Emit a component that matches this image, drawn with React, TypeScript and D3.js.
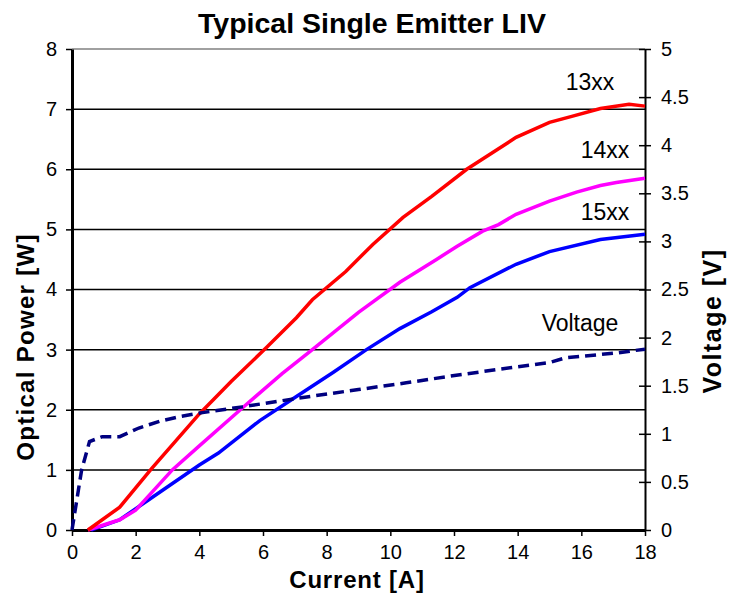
import { useEffect, useRef } from 'react';
import * as d3 from 'd3';

// current [A] / optical power [W]
const curr13 = [0.5, 1.5, 2.5, 4.0, 5.0, 6.1, 7.05, 7.55, 8.6, 9.45, 10.4, 11.3, 12.4, 13.95, 15.0, 15.7, 16.6, 17.5, 18.0];
const power13 = [0, 0.38, 1.02, 1.93, 2.47, 3.03, 3.53, 3.83, 4.3, 4.75, 5.2, 5.55, 6.0, 6.53, 6.78, 6.88, 7.01, 7.08, 7.05];

const curr14 = [0.5, 1.5, 2.0, 3.15, 4.0, 5.35, 6.6, 7.55, 9.0, 10.3, 11.45, 12.1, 12.9, 13.4, 13.95, 15.0, 15.85, 16.6, 17.1, 18.0];
const power14 = [0, 0.17, 0.33, 1.0, 1.4, 2.03, 2.6, 3.0, 3.62, 4.12, 4.5, 4.72, 4.97, 5.08, 5.25, 5.47, 5.62, 5.73, 5.78, 5.85];

const curr15 = [0.6, 1.5, 2.4, 4.0, 4.6, 5.9, 7.05, 8.2, 9.25, 10.3, 11.3, 12.1, 12.5, 13.95, 15.0, 16.6, 18.0];
const power15 = [0, 0.17, 0.5, 1.08, 1.28, 1.82, 2.22, 2.62, 3.0, 3.35, 3.63, 3.87, 4.03, 4.42, 4.63, 4.83, 4.92];

// current [A] / voltage [V]
const currV = [0, 0.3, 0.55, 0.95, 1.5, 2.1, 2.75, 3.4, 4.1, 5.35, 7.1, 9.0, 10.5, 11.9, 13.4, 15.0, 15.5, 17.1, 18.0];
const voltage = [0, 0.62, 0.92, 0.97, 0.97, 1.06, 1.13, 1.18, 1.22, 1.28, 1.37, 1.46, 1.53, 1.6, 1.67, 1.74, 1.79, 1.84, 1.88];

const xTicks = [0, 2, 4, 6, 8, 10, 12, 14, 16, 18];
const yTicks = [0, 1, 2, 3, 4, 5, 6, 7, 8];
const vTicks = [0, 0.5, 1, 1.5, 2, 2.5, 3, 3.5, 4, 4.5, 5];

const FONT = 'Arial, "Liberation Sans", sans-serif';

const Chart = () => {
  const ref = useRef<SVGSVGElement>(null);

  useEffect(() => {
    const svg = d3.select(ref.current);
    svg.selectAll('*').remove();

    const left = 72;
    const right = 645;
    const top = 49;
    const bottom = 530;

    const x = d3.scaleLinear().domain([0, 18]).range([left, right]);
    const y = d3.scaleLinear().domain([0, 8]).range([bottom, top]);
    const yv = d3.scaleLinear().domain([0, 5]).range([bottom, top]);

    // gridlines
    svg
      .append('g')
      .selectAll('line')
      .data(yTicks.slice(1))
      .join('line')
      .attr('x1', left)
      .attr('x2', right)
      .attr('y1', (d) => y(d))
      .attr('y2', (d) => y(d))
      .attr('stroke', (d) => (d === 8 ? '#808080' : '#000'))
      .attr('stroke-width', 1.5);

    // left axis
    const gl = svg.append('g').attr('transform', `translate(${left},0)`);
    gl.call(d3.axisLeft(y).tickValues(yTicks).tickSize(6).tickSizeOuter(0).tickPadding(9));
    gl.select('.domain').attr('stroke-width', 3);
    gl.selectAll('.tick line').attr('stroke-width', 1.5);

    // right axis, ticks cross the line
    const gr = svg.append('g').attr('transform', `translate(${right},0)`);
    gr.call(
      d3
        .axisRight(yv)
        .tickValues(vTicks)
        .tickFormat((d) => String(d))
        .tickSize(6)
        .tickSizeOuter(0)
        .tickPadding(10)
    );
    gr.select('.domain').attr('stroke-width', 2);
    gr.selectAll('.tick line').attr('x1', -6).attr('stroke-width', 1.5);

    // bottom axis
    const gb = svg.append('g').attr('transform', `translate(0,${bottom})`);
    gb.call(d3.axisBottom(x).tickValues(xTicks).tickSize(6).tickSizeOuter(0).tickPadding(9));
    gb.select('.domain').attr('stroke-width', 3);
    gb.selectAll('.tick line').attr('stroke-width', 1.5);

    svg
      .selectAll('.tick text')
      .attr('font-family', FONT)
      .attr('font-size', 20)
      .attr('fill', '#000');

    const line = d3
      .line<[number, number]>()
      .x((d) => x(d[0]))
      .y((d) => y(d[1]));
    const lineV = d3
      .line<[number, number]>()
      .x((d) => x(d[0]))
      .y((d) => yv(d[1]));

    const series: [number[], number[], string][] = [
      [curr15, power15, '#0000ff'],
      [curr14, power14, '#ff00ff'],
      [curr13, power13, '#ff0000'],
    ];
    series.forEach(([cx, py, color]) => {
      svg
        .append('path')
        .datum(cx.map((c, i) => [c, py[i]] as [number, number]))
        .attr('d', line)
        .attr('fill', 'none')
        .attr('stroke', color)
        .attr('stroke-width', 3.5);
    });

    svg
      .append('path')
      .datum(currV.map((c, i) => [c, voltage[i]] as [number, number]))
      .attr('d', lineV)
      .attr('fill', 'none')
      .attr('stroke', '#000080')
      .attr('stroke-width', 3.5)
      .attr('stroke-dasharray', '11,6');

    // series labels
    const labels: [string, number, number][] = [
      ['13xx', 590, 90],
      ['14xx', 605, 158],
      ['15xx', 605, 220],
      ['Voltage', 580, 331],
    ];
    svg
      .append('g')
      .selectAll('text')
      .data(labels)
      .join('text')
      .attr('x', (d) => d[1])
      .attr('y', (d) => d[2])
      .attr('text-anchor', 'middle')
      .attr('font-family', FONT)
      .attr('font-size', 23)
      .text((d) => d[0]);

    // titles
    svg
      .append('text')
      .attr('x', 372)
      .attr('y', 33)
      .attr('text-anchor', 'middle')
      .attr('font-family', FONT)
      .attr('font-weight', 'bold')
      .attr('font-size', 28.5)
      .text('Typical Single Emitter LIV');

    svg
      .append('text')
      .attr('x', 357)
      .attr('y', 588)
      .attr('text-anchor', 'middle')
      .attr('font-family', FONT)
      .attr('font-weight', 'bold')
      .attr('font-size', 24)
      .attr('letter-spacing', 0.8)
      .text('Current [A]');

    svg
      .append('text')
      .attr('transform', 'translate(34,347) rotate(-90)')
      .attr('text-anchor', 'middle')
      .attr('font-family', FONT)
      .attr('font-weight', 'bold')
      .attr('font-size', 24)
      .attr('letter-spacing', 1.3)
      .text('Optical Power [W]');

    svg
      .append('text')
      .attr('transform', 'translate(721,321) rotate(-90)')
      .attr('text-anchor', 'middle')
      .attr('font-family', FONT)
      .attr('font-weight', 'bold')
      .attr('font-size', 25)
      .attr('letter-spacing', 1.5)
      .text('Voltage [V]');
  }, []);

  return (
    <svg
      ref={ref}
      width={729}
      height={595}
      style={{ position: 'absolute', left: 0, top: 0, display: 'block', background: '#fff' }}
    />
  );
};

export default function App() {
  return (
    <div>
      <Chart />
    </div>
  );
}
